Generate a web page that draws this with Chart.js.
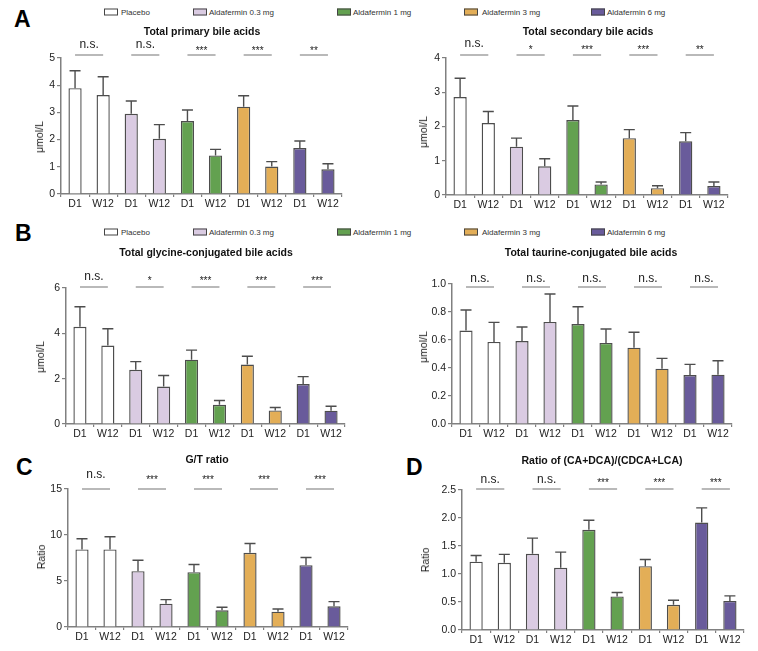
<!DOCTYPE html>
<html><head><meta charset="utf-8">
<script src="https://cdn.jsdelivr.net/npm/chart.js@4.4.0/dist/chart.umd.min.js"></script>
<style>
body{margin:0;background:#fff;width:758px;height:651px;position:relative;overflow:hidden;font-family:"Liberation Sans",Arial,sans-serif;color:#222;}
.abs{position:absolute;white-space:nowrap;}
canvas{position:absolute;}
.title{font-weight:bold;font-size:10.5px;color:#111;transform:translate(-50%,-50%);}
.ylab{font-size:10.5px;color:#222;transform:translate(-50%,-50%) rotate(-90deg);}
.letter{font-weight:bold;font-size:23px;color:#000;line-height:1;}
.leg{font-size:8px;color:#333;transform:translateY(-50%);}
.sw{position:absolute;width:12px;height:5px;border:1px solid #444;transform:translateY(-50%);}
</style></head><body>
<script>
// ---------- data ----------
const timepoints = ['D1', 'W12'];
const groups = ['Placebo', 'Aldafermin 0.3 mg', 'Aldafermin 1 mg', 'Aldafermin 3 mg', 'Aldafermin 6 mg'];
const categories = ['D1','W12','D1','W12','D1','W12','D1','W12','D1','W12'];

const primaryMean   = [3.89, 3.64, 2.95, 2.03, 2.68, 1.42, 3.21, 1.01, 1.69, 0.91];
const primarySem    = [0.64, 0.67, 0.47, 0.52, 0.41, 0.22, 0.40, 0.18, 0.26, 0.20];
const primarySig    = ['n.s.', 'n.s.', '***', '***', '**'];

const secondaryMean = [2.86, 2.10, 1.41, 0.84, 2.19, 0.31, 1.66, 0.20, 1.57, 0.26];
const secondarySem  = [0.55, 0.34, 0.25, 0.22, 0.41, 0.07, 0.25, 0.07, 0.25, 0.12];
const secondarySig  = ['n.s.', '*', '***', '***', '**'];

const glycineMean   = [4.29, 3.46, 2.39, 1.65, 2.84, 0.85, 2.62, 0.60, 1.76, 0.59];
const glycineSem    = [0.88, 0.74, 0.36, 0.49, 0.42, 0.19, 0.37, 0.13, 0.33, 0.19];
const glycineSig    = ['n.s.', '*', '***', '***', '***'];

const taurineMean   = [0.667, 0.586, 0.593, 0.729, 0.714, 0.579, 0.545, 0.395, 0.350, 0.352];
const taurineSem    = [0.147, 0.140, 0.100, 0.200, 0.124, 0.100, 0.110, 0.074, 0.076, 0.100];
const taurineSig    = ['n.s.', 'n.s.', 'n.s.', 'n.s.', 'n.s.'];

const gtMean        = [8.43, 8.43, 6.07, 2.54, 5.96, 1.82, 8.06, 1.67, 6.72, 2.25];
const gtSem         = [1.16, 1.38, 1.19, 0.44, 0.83, 0.32, 1.02, 0.29, 0.84, 0.51];
const gtSig         = ['n.s.', '***', '***', '***', '***'];

const ratioMean     = [1.22, 1.20, 1.36, 1.11, 1.79, 0.60, 1.14, 0.45, 1.92, 0.52];
const ratioSem      = [0.11, 0.15, 0.28, 0.28, 0.17, 0.07, 0.12, 0.08, 0.26, 0.09];
const ratioSig      = ['n.s.', 'n.s.', '***', '***', '***'];

// ---------- styling ----------
const groupColors = ['#ffffff', '#dacbe2', '#63a150', '#e3ae57', '#695b9b'];
const FONT = "'Liberation Sans', Arial, sans-serif";
const AXIS = '#808080';
const EDGE = '#4d4d4d';
Chart.defaults.font.family = FONT;
Chart.defaults.color = '#222';

const errPlugin = {
  id: 'errbars',
  afterDatasetsDraw(chart, args, o) {
    const ctx = chart.ctx, ys = chart.scales.y, ds = chart.data.datasets[0];
    const meta = chart.getDatasetMeta(0);
    ctx.save();
    ctx.strokeStyle = EDGE; ctx.lineWidth = 1.4;
    meta.data.forEach((bar, i) => {
      const t = ys.getPixelForValue(ds.data[i] + o.sem[i]);
      ctx.beginPath();
      ctx.moveTo(bar.x, bar.y); ctx.lineTo(bar.x, t);
      ctx.moveTo(bar.x - 5.5, t); ctx.lineTo(bar.x + 5.5, t);
      ctx.stroke();
    });
    ctx.restore();
  }
};
const sigPlugin = {
  id: 'sig',
  afterDraw(chart, args, o) {
    const ctx = chart.ctx, xs = chart.scales.x, top = chart.chartArea.top;
    ctx.save();
    o.labels.forEach((lab, k) => {
      const x1 = xs.getPixelForValue(2 * k), x2 = xs.getPixelForValue(2 * k + 1);
      const ly = top + o.lineDy;
      ctx.strokeStyle = '#8a8a8a'; ctx.lineWidth = 1.2;
      ctx.beginPath(); ctx.moveTo(x1, ly); ctx.lineTo(x2, ly); ctx.stroke();
      ctx.fillStyle = '#222'; ctx.textAlign = 'center'; ctx.textBaseline = 'alphabetic';
      if (lab === 'n.s.') {
        ctx.font = '12px ' + FONT;
        ctx.fillText(lab, (x1 + x2) / 2, top + o.nsDy + 3.1);
      } else {
        ctx.font = '10px ' + FONT;
        ctx.fillText(lab, (x1 + x2) / 2, top + o.starDy + 5.7);
      }
    });
    ctx.restore();
  }
};

function addDiv(cls, text, x, y, extra) {
  const d = document.createElement('div');
  d.className = 'abs ' + cls; d.textContent = text;
  d.style.left = x + 'px'; d.style.top = y + 'px';
  if (extra) Object.assign(d.style, extra);
  document.body.appendChild(d);
  return d;
}

function makeChart(cfg) {
  const PL = 45, PT = 42, PR = 10, PB = 24;
  const c = document.createElement('canvas');
  const w = cfg.R - cfg.L + PL + PR, h = cfg.B - cfg.T + PT + PB;
  c.width = w; c.height = h;
  c.style.left = (cfg.L - PL) + 'px'; c.style.top = (cfg.T - PT) + 'px';
  c.style.width = w + 'px'; c.style.height = h + 'px';
  document.body.appendChild(c);
  const colors = categories.map((_, i) => groupColors[Math.floor(i / 2)]);
  new Chart(c, {
    type: 'bar',
    data: { labels: categories, datasets: [{ data: cfg.mean, backgroundColor: colors, borderColor: EDGE, borderWidth: 1.4, borderSkipped: 'start', barPercentage: 0.47, categoryPercentage: 1 }] },
    options: {
      responsive: false, animation: false, devicePixelRatio: 1,
      layout: { padding: { left: 0, top: PT, right: PR, bottom: 0 } },
      plugins: { legend: { display: false }, tooltip: { enabled: false },
        errbars: { sem: cfg.sem },
        sig: { labels: cfg.sig, lineDy: cfg.sigLine - cfg.T, nsDy: cfg.nsY - cfg.T, starDy: cfg.starY - cfg.T } },
      scales: {
        x: { type: 'category', offset: true,
             grid: { display: true, drawOnChartArea: false, drawTicks: true, tickLength: 3, color: AXIS, lineWidth: 1.2 },
             border: { display: true, color: AXIS, width: 1.5 },
             ticks: { font: { size: 10.5 }, color: '#222', padding: 1, maxRotation: 0, autoSkip: false },
             afterFit: s => { s.height = PB; } },
        y: { min: 0, max: cfg.max,
             grid: { display: true, drawOnChartArea: false, drawTicks: true, tickLength: 4, color: AXIS, lineWidth: 1.2 },
             border: { display: true, color: AXIS, width: 1.5 },
             ticks: { stepSize: cfg.step, font: { size: 10.5 }, color: '#222', padding: 2,
                      callback: v => cfg.dec ? Number(v).toFixed(cfg.dec) : v },
             afterFit: s => { s.width = PL; } }
      }
    },
    plugins: [errPlugin, sigPlugin]
  });
  addDiv('title', cfg.title, cfg.tx, cfg.ty);
  addDiv('ylab', cfg.ylabel, cfg.yx, cfg.yy);
}

// legends
function legend(cy) {
  const swX = [104, 193, 337, 464, 591], txX = [121, 209, 353, 482, 607];
  groups.forEach((g, i) => {
    const s = document.createElement('div');
    s.className = 'sw'; s.style.left = swX[i] + 'px'; s.style.top = cy + 'px'; s.style.background = groupColors[i];
    document.body.appendChild(s);
    addDiv('leg', g, txX[i], cy);
  });
}
legend(12);
legend(232);

addDiv('letter', 'A', 14, 8);
addDiv('letter', 'B', 15, 222);
addDiv('letter', 'C', 16, 456);
addDiv('letter', 'D', 406, 456);

makeChart({ mean: primaryMean, sem: primarySem, sig: primarySig, max: 5, step: 1,
  L: 61, T: 58, R: 342, B: 194, sigLine: 55, nsY: 45, starY: 48,
  title: 'Total primary bile acids', tx: 202, ty: 31, ylabel: 'μmol/L', yx: 39, yy: 137 });
makeChart({ mean: secondaryMean, sem: secondarySem, sig: secondarySig, max: 4, step: 1,
  L: 446, T: 58, R: 728, B: 195, sigLine: 55, nsY: 44, starY: 47,
  title: 'Total secondary bile acids', tx: 588, ty: 31, ylabel: 'μmol/L', yx: 423, yy: 132 });
makeChart({ mean: glycineMean, sem: glycineSem, sig: glycineSig, max: 6, step: 2,
  L: 66, T: 288, R: 345, B: 424, sigLine: 287, nsY: 277, starY: 278,
  title: 'Total glycine-conjugated bile acids', tx: 206, ty: 252, ylabel: 'μmol/L', yx: 40, yy: 357 });
makeChart({ mean: taurineMean, sem: taurineSem, sig: taurineSig, max: 1, step: 0.2, dec: 1,
  L: 452, T: 284, R: 732, B: 424, sigLine: 287, nsY: 279, starY: 280,
  title: 'Total taurine-conjugated bile acids', tx: 591, ty: 252, ylabel: 'μmol/L', yx: 423, yy: 347 });
makeChart({ mean: gtMean, sem: gtSem, sig: gtSig, max: 15, step: 5,
  L: 68, T: 489, R: 348, B: 627, sigLine: 489, nsY: 475, starY: 477,
  title: 'G/T ratio', tx: 207, ty: 459, ylabel: 'Ratio', yx: 41, yy: 557 });
makeChart({ mean: ratioMean, sem: ratioSem, sig: ratioSig, max: 2.5, step: 0.5, dec: 1,
  L: 462, T: 490, R: 744, B: 630, sigLine: 489, nsY: 480, starY: 480,
  title: 'Ratio of (CA+DCA)/(CDCA+LCA)', tx: 602, ty: 460, ylabel: 'Ratio', yx: 425, yy: 560 });
</script>
</body></html>
